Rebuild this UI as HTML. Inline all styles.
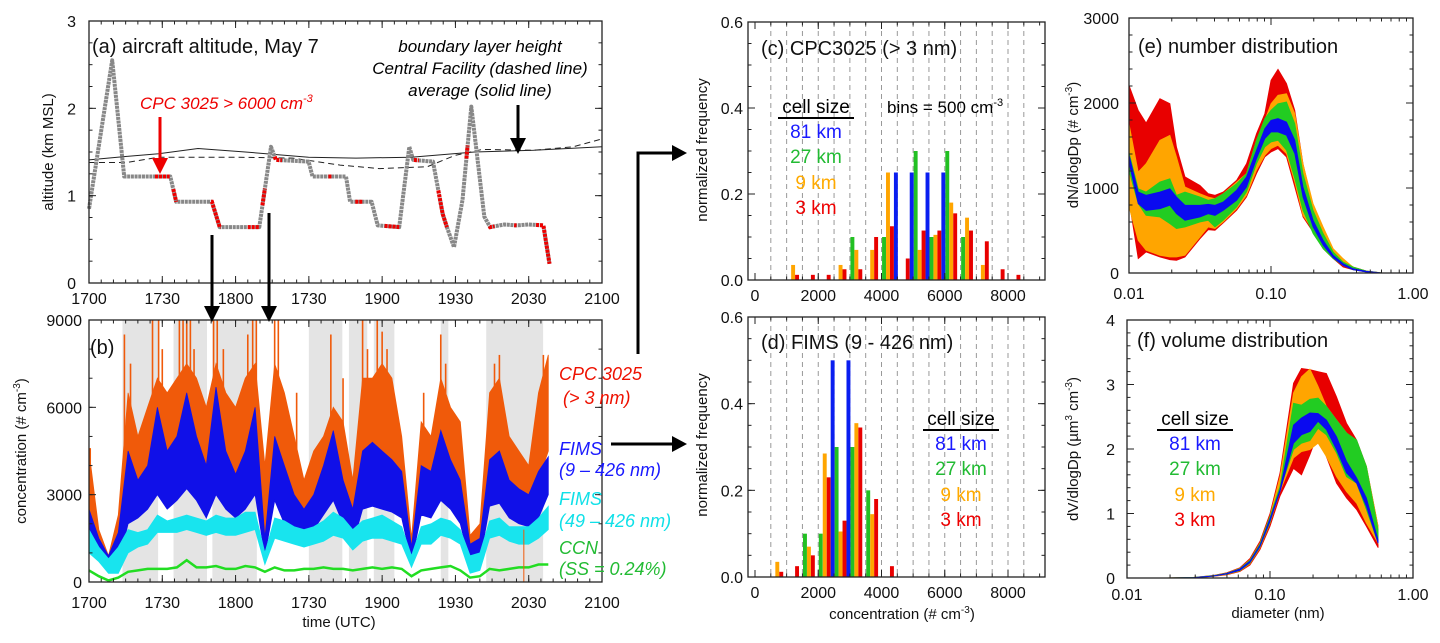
<!DOCTYPE html>
<html><head><meta charset="utf-8">
<style>
html,body{margin:0;padding:0;background:#fff;}
svg{display:block;font-family:"Liberation Sans",Arial,sans-serif;}
.tk{font-size:16px;fill:#111;}
.ax{font-size:15px;fill:#111;}
.ttl{font-size:20px;fill:#111;}
.it{font-style:italic;}
</style></head>
<body>
<svg id="fig" width="1440" height="643" viewBox="0 0 1440 643" xmlns="http://www.w3.org/2000/svg">
<rect width="1440" height="643" fill="#fff"/>
<g id="layerA"></g>
<g id="layerB"></g>
<g id="layerC"></g>
<g id="layerD"></g>
<g id="layerE"></g>
<g id="layerF"></g>

<text class="ttl" x="92" y="53">(a) aircraft altitude, May 7</text>
<text class="it" font-size="17" x="480" y="52" text-anchor="middle">boundary layer height</text>
<text class="it" font-size="17" x="480" y="74" text-anchor="middle">Central Facility (dashed line)</text>
<text class="it" font-size="17" x="480" y="96" text-anchor="middle">average (solid line)</text>
<text class="it" font-size="17" fill="#ee0000" x="140" y="109">CPC 3025 &gt; 6000 cm<tspan dy="-7" font-size="11">-3</tspan></text>
<text class="ax" transform="translate(53,152) rotate(-90)" text-anchor="middle">altitude (km MSL)</text>

<text class="ttl" x="90" y="354">(b)</text>
<text class="ax" transform="translate(26,451) rotate(-90)" text-anchor="middle">concentration (# cm<tspan dy="-6" font-size="10">-3</tspan><tspan dy="6">)</tspan></text>
<text class="ax" x="339" y="627" text-anchor="middle">time (UTC)</text>
<g font-size="18" class="it">
<text fill="#ee1100" x="559" y="380">CPC 3025</text>
<text fill="#ee1100" x="563" y="404">(&gt; 3 nm)</text>
<text fill="#1a1aff" x="559" y="455">FIMS</text>
<text fill="#1a1aff" x="559" y="476">(9 – 426 nm)</text>
<text fill="#10e0e8" x="559" y="505">FIMS</text>
<text fill="#10e0e8" x="559" y="527">(49 – 426 nm)</text>
<text fill="#22bb33" x="559" y="554">CCN</text>
<text fill="#22bb33" x="559" y="575">(SS = 0.24%)</text>
</g>

<g stroke="#000" stroke-width="3" fill="none">
<polyline points="638,354 638,153 672,153"/>
<line x1="611" y1="444" x2="672" y2="444"/>
<line x1="212" y1="235" x2="212" y2="308"/>
<line x1="269" y1="213" x2="269" y2="308"/>
<line x1="518" y1="105" x2="518" y2="140"/>
<line x1="160" y1="117" x2="160" y2="160" stroke="#ee0000"/>
</g>
<g stroke="none">
<polygon points="672,145 687,153 672,161" fill="#000"/>
<polygon points="672,436 687,444 672,452" fill="#000"/>
<polygon points="204,306 220,306 212,322" fill="#000"/>
<polygon points="261,306 277,306 269,322" fill="#000"/>
<polygon points="510,138 526,138 518,154" fill="#000"/>
<polygon points="152,158 168,158 160,174" fill="#ee0000"/>
</g>

<text class="ttl" x="761" y="55">(c) CPC3025 (&gt; 3 nm)</text>
<text class="ax" transform="translate(707,150) rotate(-90)" text-anchor="middle">normalized frequency</text>
<text font-size="17" x="887" y="113">bins = 500 cm<tspan dy="-7" font-size="11">-3</tspan></text>
<g font-size="19" text-anchor="middle">
<text x="816" y="113">cell size</text>
<line x1="778" y1="118" x2="854" y2="118" stroke="#000" stroke-width="2"/>
<text fill="#1a1aff" x="816" y="138">81 km</text>
<text fill="#22bb33" x="816" y="163">27 km</text>
<text fill="#ffaa00" x="816" y="189">9 km</text>
<text fill="#ee0000" x="816" y="214">3 km</text>
</g>

<text class="ttl" x="761" y="349">(d) FIMS (9 - 426 nm)</text>
<text class="ax" transform="translate(707,445) rotate(-90)" text-anchor="middle">normalized frequency</text>
<text class="ax" x="902" y="619" text-anchor="middle">concentration (# cm<tspan dy="-6" font-size="10">-3</tspan><tspan dy="6">)</tspan></text>
<g font-size="19" text-anchor="middle">
<text x="961" y="425">cell size</text>
<line x1="923" y1="430" x2="999" y2="430" stroke="#000" stroke-width="2"/>
<text fill="#1a1aff" x="961" y="450">81 km</text>
<text fill="#22bb33" x="961" y="475">27 km</text>
<text fill="#ffaa00" x="961" y="501">9 km</text>
<text fill="#ee0000" x="961" y="526">3 km</text>
</g>

<text class="ttl" x="1138" y="53">(e) number distribution</text>
<text class="ax" transform="translate(1078,145) rotate(-90)" text-anchor="middle">dN/dlogDp (# cm<tspan dy="-6" font-size="10">-3</tspan><tspan dy="6">)</tspan></text>

<text class="ttl" x="1137" y="347">(f) volume distribution</text>
<text class="ax" transform="translate(1078,449) rotate(-90)" text-anchor="middle">dV/dlogDp (µm<tspan dy="-6" font-size="10">3</tspan><tspan dy="6"> cm</tspan><tspan dy="-6" font-size="10">-3</tspan><tspan dy="6">)</tspan></text>
<text class="ax" x="1278" y="618" text-anchor="middle">diameter (nm)</text>
<g font-size="19" text-anchor="middle">
<text x="1195" y="425">cell size</text>
<line x1="1157" y1="430" x2="1233" y2="430" stroke="#000" stroke-width="2"/>
<text fill="#1a1aff" x="1195" y="450">81 km</text>
<text fill="#22bb33" x="1195" y="475">27 km</text>
<text fill="#ffaa00" x="1195" y="501">9 km</text>
<text fill="#ee0000" x="1195" y="526">3 km</text>
</g>
</svg>

<script>
// ---------- data: panel (a) ----------
const altTime = [0,9.5,14.4,33.3,35.7,50.3,53.5,69.7,74.5,76.5,89.9,91.5,105.2,106.9,115.7,118.2,127,131.1,132.7,140.8,144.8,146.5,149.4,152.9,156.5,161.8,164.2,170,175,180,186,188.5];
const altKm   = [0.85,2.55,1.22,1.22,0.93,0.93,0.64,0.64,1.56,1.41,1.39,1.22,1.22,0.93,0.93,0.66,0.64,1.56,1.41,1.39,0.79,0.64,0.41,0.95,2.02,0.76,0.64,0.67,0.66,0.67,0.66,0.22];
const redStart = [27,34.5,50,65,71,76,98,109,121,133,143,154.5,164,174,183];
const redEnd   = [33,35.7,54,69.5,72,79,99.5,112,127,135,146.5,155,166,175,188.5];
const pblAvgTime = [0,15.5,28.5,44.6,64,89.9,109.3,131.9,157.8,182,210];
const pblAvg     = [1.41,1.45,1.48,1.54,1.5,1.44,1.43,1.44,1.5,1.52,1.56];
const pblCfTime  = [0,15.5,28.5,60.8,83.4,102.8,119,138.4,149.7,161,182,198.2,210];
const pblCf      = [1.38,1.38,1.44,1.44,1.43,1.35,1.31,1.33,1.46,1.53,1.52,1.56,1.65];
const timeLabels = ["1700","1730","1800","1730","1900","1930","2030","2100"];
const altLabels = ["0","1","2","3"];

// ---------- data: panel (b) ----------
const bTime  = [0,4,8,12,16,20,24,28,32,36,40,44,48,52,56,60,64,68,72,76,80,84,88,92,96,100,104,108,112,116,120,124,128,132,136,140,144,148,152,156,160,164,168,172,176,180,184,188];
const cpcUp  = [4500,1800,900,2300,6500,5000,6000,7000,6500,7000,7500,7000,6000,7500,6500,6000,7000,7500,4000,7500,6500,5000,3500,4500,5000,6000,5500,3500,7000,7000,7500,7000,5000,1500,5500,5000,7000,6000,5500,1600,2000,6500,7000,5000,4500,4000,6500,7800];
const cpcLo  = [2000,1200,600,800,2500,3000,3200,4000,3500,4000,5000,4500,3800,4200,3500,3500,3800,4500,1000,4000,2500,2000,1800,2500,3000,3200,2500,1800,3500,3500,4000,3500,2500,900,2500,2500,4000,3500,2500,800,900,3500,4000,3500,2500,2500,3500,4500];
const cpcSpikeTime  = [0.5,14.5,17,26,28.5,30,37,38.5,40,41.5,43,51,52.5,55,65,67,68.5,76,77.5,85,99,104,112,114,118,120,122,137,144,146,166,168,186];
const cpcSpikeValue = [4600,8500,7500,9000,9000,8000,9000,9000,9000,9000,8000,9000,9000,8000,8500,9000,9000,9000,9000,6500,8500,7000,9000,8000,9000,8600,8000,6500,8500,7500,7500,7800,7800];
const fimsUp = [2500,1500,900,1700,4500,3500,4000,6000,4500,5000,6500,5000,4000,6700,4500,3700,4500,6000,1500,5000,4000,3000,2500,3000,4000,5200,3500,2500,4500,4800,4500,4200,3800,1200,4000,3800,5200,4200,3500,1300,1500,4200,4500,3500,3200,3000,3800,4300];
const fimsLo = [1500,900,500,600,2000,2200,2500,3000,2500,2800,3200,2800,2200,3000,2500,2200,2500,3000,900,2800,2000,1700,1500,1800,2300,2800,2000,1300,2500,2600,2500,2400,2200,700,2300,2200,2800,2500,2000,600,700,2600,2700,2200,2000,1900,2200,3000];
const f49Up  = [1800,1200,800,1200,1800,1700,1800,2300,2100,2200,2300,2200,2100,2300,2200,2200,2400,2400,1000,2200,2100,1900,1800,1900,2100,2400,2200,1800,2100,2200,2300,2100,1900,900,1900,2000,2200,2100,1800,900,1000,2100,2200,1900,1900,1900,2200,2600];
const f49Lo  = [1000,700,300,300,1000,1200,1300,1700,1700,1700,1800,1700,1600,1700,1600,1600,1700,1800,600,1500,1400,1300,1200,1300,1400,1600,1500,1100,1400,1500,1500,1400,1300,500,1300,1300,1600,1500,1300,300,400,1500,1600,1400,1300,1300,1500,1800];
const ccn    = [400,200,50,150,350,400,450,450,450,500,750,500,500,550,450,450,550,500,350,500,400,400,450,450,500,450,450,400,450,500,450,500,450,200,400,450,500,550,400,150,200,450,400,450,500,500,600,600];
const shadeStart = [13.7,34.6,50.5,90,106.4,116.6,144,162.6];
const shadeEnd   = [28.3,48.3,68.7,103.7,113.9,125,147.1,185.9];
const spikeTime = [178];
const spikeValue = [1800];
const concLabels = ["0","3000","6000","9000"];

// ---------- data: panels (c),(d) ----------
const binStarts = [0,500,1000,1500,2000,2500,3000,3500,4000,4500,5000,5500,6000,6500,7000,7500,8000,8500];
const cGreen  = [0,0,0,0,0,0,.1,0,.1,0,.3,.1,.3,.1,0,0,0,0];
const cOrange = [0,0,.035,0,0,.035,.07,.07,.25,0,.07,.105,.18,.145,.035,0,0,0];
const cRed    = [0,0,.012,.012,.012,.025,.025,.1,.125,.05,.115,.115,.155,.115,.09,.025,.012,0];
const cBlue   = [0,0,0,0,0,0,0,0,.25,.25,.25,.25,0,0,0,0,0,0];
const dGreen  = [0,0,0,.1,.1,.3,.3,.2,0,0,0,0,0,0,0,0,0,0];
const dOrange = [0,.035,0,.07,.285,.105,.355,.145,0,0,0,0,0,0,0,0,0,0];
const dRed    = [0,.012,.025,.05,.23,.13,.345,.18,.025,0,0,0,0,0,0,0,0,0];
const dBlue   = [0,0,0,0,.5,.5,0,0,0,0,0,0,0,0,0,0,0,0];
const histXLabels = ["0","2000","4000","6000","8000"];
const histYLabels = ["0.0","0.2","0.4","0.6"];

// ---------- data: panel (e) ----------
const eDp = [0.01,0.0116,0.0132,0.0165,0.0194,0.0216,0.0248,0.0316,0.0361,0.0403,0.0461,0.0572,0.0672,0.0791,0.0905,0.1,0.112,0.1285,0.147,0.168,0.198,0.233,0.274,0.322,0.378,0.47,0.615,1.0];
const eRedUp = [2208,1914,1765,2051,1992,1482,1130,1031,933,914,953,1090,1286,1639,1875,2267,2396,2228,1914,1286,777,502,259,149,71,24,0,0];
const eRedLo = [855,169,247,188,157,149,188,404,510,502,588,737,894,1169,1365,1424,1463,1365,1012,659,482,286,169,71,39,12,0,0];
const eOrUp  = [1757,1188,1286,1561,1620,1365,1012,933,894,875,933,1071,1169,1561,1796,1992,2090,2110,1875,1286,816,541,286,169,71,24,0,0];
const eOrLo  = [777,384,267,208,188,188,208,424,541,522,600,757,914,1208,1384,1463,1502,1404,1071,678,502,306,188,90,51,16,0,0];
const eGrUp  = [1420,992,953,1071,1110,914,953,894,855,875,933,1051,1169,1561,1816,1914,1992,2012,1757,1169,737,463,247,129,71,24,0,0];
const eGrLo  = [1200,816,678,659,580,522,541,600,620,541,620,777,953,1286,1483,1541,1561,1443,1110,737,463,286,169,90,39,12,0,0];
const eBlUp  = [1390,953,914,953,992,894,796,796,808,796,835,973,1130,1443,1698,1796,1816,1777,1561,1012,620,384,208,110,51,20,0,0];
const eBlLo  = [1300,816,737,757,796,698,620,659,698,678,737,855,1012,1345,1581,1659,1659,1620,1404,894,541,326,180,90,39,12,0,0];
const eYLabels = ["0","1000","2000","3000"];
const logLabels = ["0.01","0.10","1.00"];

// ---------- data: panel (f) ----------
const fDp = [0.01,0.0171,0.0292,0.0402,0.0498,0.0616,0.0724,0.0851,0.1,0.1175,0.146,0.166,0.19,0.217,0.248,0.292,0.343,0.403,0.472,0.57];
const fRedUp = [0,0,.01,.04,.08,.16,.30,.57,1.0,1.63,3.02,3.25,3.23,3.20,3.17,2.81,2.40,2.14,1.73,0.80];
const fRedLo = [0,0,0,.025,.05,.10,.20,.44,.80,1.27,1.70,1.60,1.91,2.25,1.88,1.47,1.24,1.06,0.80,0.47];
const fOrUp  = [0,0,.01,.035,.075,.15,.28,.54,.96,1.57,2.87,3.12,3.24,2.97,2.66,2.45,2.25,2.09,1.73,0.80];
const fOrLo  = [0,0,0,.028,.055,.11,.22,.47,.85,1.34,1.86,1.96,1.99,2.09,1.88,1.57,1.34,1.16,0.85,0.54];
const fGrUp  = [0,0,.01,.035,.073,.145,.275,.53,.95,1.42,2.71,2.68,2.77,2.79,2.66,2.45,2.25,2.14,1.73,0.75];
const fGrLo  = [0,0,0,.03,.06,.115,.23,.48,.86,1.37,1.99,2.09,2.13,2.32,2.22,1.94,1.57,1.47,1.06,0.54];
const fBlUp  = [0,0,.008,.033,.07,.14,.26,.51,.92,1.37,2.37,2.48,2.56,2.55,2.45,2.19,1.81,1.55,1.24,0.59];
const fBlLo  = [0,0,.003,.03,.062,.12,.24,.49,.88,1.34,2.09,2.22,2.27,2.43,2.30,1.99,1.63,1.47,1.11,0.54];
const fYLabels = ["0","1","2","3","4"];

// ---------- helpers ----------
const NS = "http://www.w3.org/2000/svg";
function mk(parent, tag, attrs){
  const el = document.createElementNS(NS, tag);
  for (const k in attrs) el.setAttribute(k, attrs[k]);
  parent.appendChild(el);
  return el;
}
function lin(d0,d1,r0,r1){ return v => r0 + (v-d0)*(r1-r0)/(d1-d0); }
function logs(d0,d1,r0,r1){ const a=Math.log10(d0), b=Math.log10(d1); return v => r0 + (Math.log10(v)-a)*(r1-r0)/(b-a); }
function interp(xs, ys, x){
  if (x<=xs[0]) return ys[0];
  for (let i=1;i<xs.length;i++){ if (x<=xs[i]){ const f=(x-xs[i-1])/(xs[i]-xs[i-1]); return ys[i-1]+f*(ys[i]-ys[i-1]); } }
  return ys[ys.length-1];
}
function frame(g, x0,y0,x1,y1, name){
  const r = mk(g,'rect',{x:x0,y:y0,width:x1-x0,height:y1-y0,fill:'none',stroke:'#222','stroke-width':1.3});
  
  
}
function tickX(g, positions, y0, y1, len){
  positions.forEach(px => {
    const t1 = mk(g,'line',{x1:px,x2:px,y1:y1,y2:y1-len,stroke:'#222','stroke-width':1});
    
    
    const t2 = mk(g,'line',{x1:px,x2:px,y1:y0,y2:y0+len,stroke:'#222','stroke-width':1});
    
    
  });
}
function tickY(g, positions, x0, x1, len){
  positions.forEach(py => {
    const t1 = mk(g,'line',{x1:x0,x2:x0+len,y1:py,y2:py,stroke:'#222','stroke-width':1});
    
    
    const t2 = mk(g,'line',{x1:x1,x2:x1-len,y1:py,y2:py,stroke:'#222','stroke-width':1});
    
    
  });
}
function label(g, txt, x, y, anchor, name){
  const t = mk(g,'text',{x:x,y:y,'text-anchor':anchor,class:'tk'});
  t.textContent = txt;
  
  
}
function band(g, xs, up, lo, xS, yS, color, name){
  let pts = [];
  for (let i=0;i<xs.length;i++) pts.push(xS(xs[i]).toFixed(1)+','+yS(up[i]).toFixed(1));
  for (let i=xs.length-1;i>=0;i--) pts.push(xS(xs[i]).toFixed(1)+','+yS(lo[i]).toFixed(1));
  const p = mk(g,'polygon',{points:pts.join(' '),fill:color,stroke:color,'stroke-width':0.8});
  
  
}
function line(g, xs, ys, xS, yS, attrs, name){
  const pts = xs.map((x,i)=>xS(x).toFixed(1)+','+yS(ys[i]).toFixed(1)).join(' ');
  const a = Object.assign({points:pts,fill:'none'}, attrs);
  const p = mk(g,'polyline',a);
  
  
}
function range(a,b,s){ const r=[]; for(let v=a; v<=b+1e-9; v+=s) r.push(v); return r; }

// ---------- panel (a) ----------
(function(){
  const g = document.getElementById('layerA');
  const X0=89, X1=602, Y0=21, Y1=283;
  const xS = lin(0,210,X0,X1), yS = lin(0,3,Y1,Y0);
  line(g, pblAvgTime, pblAvg, xS, yS, {stroke:'#222','stroke-width':1}, 'pbl-average-line');
  line(g, pblCfTime, pblCf, xS, yS, {stroke:'#222','stroke-width':1,'stroke-dasharray':'6,4'}, 'pbl-central-facility-line');
  line(g, altTime, altKm, xS, yS, {stroke:'#888','stroke-width':4,'stroke-dasharray':'3,0.7','stroke-linejoin':'round'}, 'altitude-track');
  redStart.forEach((s,i)=>{
    const ts=[s]; altTime.forEach(t=>{ if(t>s && t<redEnd[i]) ts.push(t); }); ts.push(redEnd[i]);
    const vs = ts.map(t=>interp(altTime, altKm, t));
    line(g, ts, vs, xS, yS, {stroke:'#ee0000','stroke-width':4,'stroke-dasharray':'3,1'}, 'high-cpc-segment');
  });
  frame(g, X0,Y0,X1,Y1, 'panel-a-frame');
  tickX(g, range(0,210,30).map(xS), Y0, Y1, 7);
  tickX(g, range(0,210,5).map(xS), Y0, Y1, 3.5);
  tickY(g, range(0,3,1).map(yS), X0, X1, 7);
  tickY(g, range(0,3,0.25).map(yS), X0, X1, 3.5);
  timeLabels.forEach((l,i)=>label(g, l, xS(i*30), 304, 'middle', 'x-tick-label'));
  altLabels.forEach((l,i)=>label(g, l, 76, yS(i)+6, 'end', 'y-tick-label'));
})();

// ---------- panel (b) ----------
(function(){
  const g = document.getElementById('layerB');
  const X0=89, X1=602, Y0=320, Y1=582;
  const xS = lin(0,210,X0,X1), yS = lin(0,9000,Y1,Y0);
  shadeStart.forEach((s,i)=>{
    const r = mk(g,'rect',{x:xS(s),y:Y0,width:xS(shadeEnd[i])-xS(s),height:Y1-Y0,fill:'#e4e4e4'});
    
    
  });
  band(g, bTime, cpcUp, cpcLo, xS, yS, '#f05a0a', 'cpc3025-series');
  cpcSpikeTime.forEach((t,i)=>{
    const l = mk(g,'line',{x1:xS(t),x2:xS(t),y1:yS(interp(bTime,cpcLo,t)),y2:yS(cpcSpikeValue[i]),stroke:'#f05a0a','stroke-width':1.6});
    
    
  });
  band(g, bTime, fimsUp, fimsLo, xS, yS, '#1010e8', 'fims-9-426-series');
  band(g, bTime, f49Up, f49Lo, xS, yS, '#18e4ee', 'fims-49-426-series');
  line(g, bTime, ccn, xS, yS, {stroke:'#22dd22','stroke-width':2.5}, 'ccn-series');
  spikeTime.forEach((t,i)=>{
    const l = mk(g,'line',{x1:xS(t),x2:xS(t),y1:yS(0),y2:yS(spikeValue[i]),stroke:'#f05a0a','stroke-width':1});
    
    
  });
  frame(g, X0,Y0,X1,Y1, 'panel-b-frame');
  tickX(g, range(0,210,30).map(xS), Y0, Y1, 7);
  tickX(g, range(0,210,5).map(xS), Y0, Y1, 3.5);
  tickY(g, range(0,9000,3000).map(yS), X0, X1, 7);
  tickY(g, range(0,9000,1000).map(yS), X0, X1, 3.5);
  timeLabels.forEach((l,i)=>label(g, l, xS(i*30), 608, 'middle', 'x-tick-label'));
  concLabels.forEach((l,i)=>label(g, l, 82, yS(i*3000)+6, 'end', 'y-tick-label'));
})();

// ---------- panels (c),(d) ----------
function hist(gid, Y0, Y1, series){
  const g = document.getElementById(gid);
  const X0=748, X1=1045;
  const xS = lin(0,8000,755,1008), yS = lin(0,0.6,Y1,Y0);
  range(500,8500,500).forEach(v=>{
    const l = mk(g,'line',{x1:xS(v),x2:xS(v),y1:Y0,y2:Y1,stroke:'#999','stroke-width':1,'stroke-dasharray':'5,4'});
    
    
  });
  const colors = ['#22c022','#ffa500','#e80000','#0a1ef0'];
  const names = ['27km','9km','3km','81km'];
  series.forEach((arr, si)=>{
    arr.forEach((v,bi)=>{
      if (v<=0) return;
      const c = binStarts[bi] + 80 + si*125;
      const x0 = xS(c-62), x1 = xS(c+62);
      const r = mk(g,'rect',{x:x0,y:yS(v),width:x1-x0,height:yS(0)-yS(v),fill:colors[si]});
      
      
    });
  });
  frame(g, X0,Y0,X1,Y1, gid+'-frame');
  tickX(g, range(0,8000,2000).map(xS), Y0, Y1, 7);
  tickX(g, range(0,9000,500).map(xS), Y0, Y1, 3.5);
  tickY(g, range(0,0.6,0.2).map(yS), X0, X1, 7);
  tickY(g, range(0,0.6,0.05).map(yS), X0, X1, 3.5);
  histXLabels.forEach((l,i)=>label(g, l, xS(i*2000), Y1+21, 'middle', 'x-tick-label'));
  histYLabels.forEach((l,i)=>label(g, l, 743, yS(i*0.2)+6, 'end', 'y-tick-label'));
}
hist('layerC', 22, 280, [cGreen,cOrange,cRed,cBlue]);
hist('layerD', 317, 577, [dGreen,dOrange,dRed,dBlue]);

// ---------- panel (e) ----------
function logTicks(g, xS, Y0, Y1){
  tickX(g, [0.01,0.1,1].map(xS), Y0, Y1, 7);
  const minor=[]; [0.01,0.1].forEach(d=>{ for(let k=2;k<=9;k++) minor.push(d*k); });
  tickX(g, minor.map(xS), Y0, Y1, 3.5);
}
(function(){
  const g = document.getElementById('layerE');
  const X0=1129, X1=1413, Y0=18, Y1=273;
  const xS = logs(0.01,1,X0,X1), yS = lin(0,3000,Y1,Y0);
  band(g, eDp, eRedUp, eRedLo, xS, yS, '#e80000', 'band-3km');
  band(g, eDp, eOrUp, eOrLo, xS, yS, '#ffa500', 'band-9km');
  band(g, eDp, eGrUp, eGrLo, xS, yS, '#22cc22', 'band-27km');
  band(g, eDp, eBlUp, eBlLo, xS, yS, '#0a0af0', 'band-81km');
  frame(g, X0,Y0,X1,Y1, 'panel-e-frame');
  logTicks(g, xS, Y0, Y1);
  tickY(g, range(0,3000,1000).map(yS), X0, X1, 7);
  tickY(g, range(0,3000,200).map(yS), X0, X1, 3.5);
  logLabels.forEach((l,i)=>label(g, l, xS(Math.pow(10,i-2)), 299, 'middle', 'x-tick-label'));
  eYLabels.forEach((l,i)=>label(g, l, 1119, yS(i*1000)+6, 'end', 'y-tick-label'));
})();

// ---------- panel (f) ----------
(function(){
  const g = document.getElementById('layerF');
  const X0=1127, X1=1413, Y0=320, Y1=578;
  const xS = logs(0.01,1,X0,X1), yS = lin(0,4,Y1,Y0);
  band(g, fDp, fRedUp, fRedLo, xS, yS, '#e80000', 'band-3km');
  band(g, fDp, fOrUp, fOrLo, xS, yS, '#ffa500', 'band-9km');
  band(g, fDp, fGrUp, fGrLo, xS, yS, '#22cc22', 'band-27km');
  band(g, fDp, fBlUp, fBlLo, xS, yS, '#0a0af0', 'band-81km');
  frame(g, X0,Y0,X1,Y1, 'panel-f-frame');
  logTicks(g, xS, Y0, Y1);
  tickY(g, range(0,4,1).map(yS), X0, X1, 7);
  tickY(g, range(0,4,0.2).map(yS), X0, X1, 3.5);
  logLabels.forEach((l,i)=>label(g, l, xS(Math.pow(10,i-2)), 600, 'middle', 'x-tick-label'));
  fYLabels.forEach((l,i)=>label(g, l, 1115, yS(i)+6, 'end', 'y-tick-label'));
})();
</script>
</body></html>
